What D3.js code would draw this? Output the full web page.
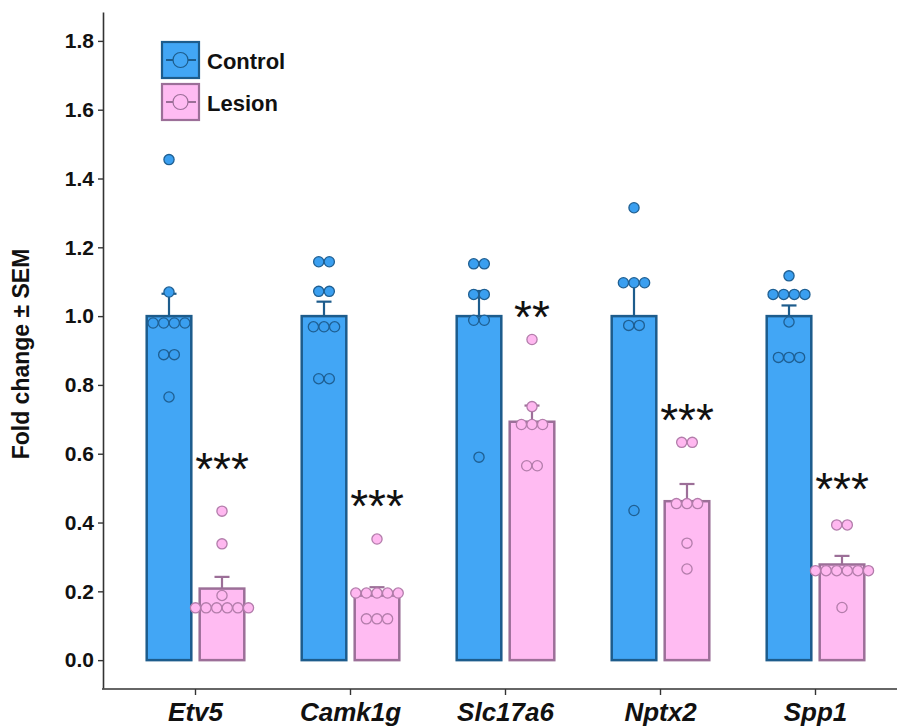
<!DOCTYPE html>
<html>
<head>
<meta charset="utf-8">
<script src="https://cdn.jsdelivr.net/npm/d3@7/dist/d3.min.js"></script>
<style>
  html, body { margin: 0; padding: 0; background: #fff; }
  svg { display: block; }
  text { font-family: "Liberation Sans", Arial, Helvetica, sans-serif; fill: #111; }
</style>
</head>
<body>
<svg id="chart" width="897" height="727"></svg>
<script>
// Genes and groups
const genes = ["Etv5", "Camk1g", "Slc17a6", "Nptx2", "Spp1"];
const groups = ["Control", "Lesion"];

// Group means (fold change) and SEM
const controlMean = [1.0, 1.0, 1.0, 1.0, 1.0];
const controlSem  = [0.065, 0.042, 0.073, 0.098, 0.031];
const lesionMean  = [0.208, 0.188, 0.693, 0.462, 0.278];
const lesionSem   = [0.034, 0.024, 0.047, 0.05, 0.025];

// Individual animals
const controlPoints = [
  [1.455, 1.07, 0.98, 0.98, 0.98, 0.98, 0.888, 0.888, 0.765],
  [1.158, 1.158, 1.072, 1.072, 0.969, 0.969, 0.969, 0.818, 0.818],
  [1.152, 1.152, 1.063, 1.063, 0.988, 0.988, 0.59],
  [1.315, 1.097, 1.097, 1.097, 0.973, 0.973, 0.435],
  [1.117, 1.063, 1.063, 1.063, 1.063, 0.983, 0.88, 0.88, 0.88]
];
const lesionPoints = [
  [0.433, 0.338, 0.188, 0.152, 0.152, 0.152, 0.152, 0.152, 0.152],
  [0.352, 0.195, 0.195, 0.195, 0.195, 0.195, 0.12, 0.12, 0.12],
  [0.932, 0.737, 0.685, 0.685, 0.685, 0.565, 0.565],
  [0.633, 0.633, 0.455, 0.455, 0.455, 0.34, 0.265],
  [0.393, 0.393, 0.26, 0.26, 0.26, 0.26, 0.26, 0.26, 0.153]
];

// Significance marks (Lesion vs Control) and the level they sit at
const sigLabels = ["***", "***", "**", "***", "***"];
const sigLevel  = [0.578, 0.472, 1.022, 0.722, 0.522];

// Axis ticks
const yTicks = [0, 0.2, 0.4, 0.6, 0.8, 1.0, 1.2, 1.4, 1.6, 1.8];

const styles = {
  Control: { fill: "#42a6f5", stroke: "#1d5c8c", dotFill: "#3a9ff0", dotStroke: "#1f5f92" },
  Lesion:  { fill: "#ffbbf2", stroke: "#9c6f98", dotFill: "#ffb8f0", dotStroke: "#b37dab" }
};

const svg = d3.select("#chart");
const axisColor = "#333";

const y = d3.scaleLinear().domain([-0.081, 1.884]).range([688, 12]);
const x = d3.scaleBand().domain(genes).range([118, 893]);
const xs = d3.scaleBand().domain(groups).range([-50, 50]).paddingInner(0.113);

const rows = genes.map((g, i) => ({
  gene: g,
  bars: [
    { group: "Control", mean: controlMean[i], sem: controlSem[i], pts: controlPoints[i] },
    { group: "Lesion",  mean: lesionMean[i],  sem: lesionSem[i],  pts: lesionPoints[i] }
  ],
  sig: sigLabels[i], sigY: sigLevel[i]
}));

// Axes
const yAxis = d3.axisLeft(y).tickValues(yTicks).tickFormat(d3.format(".1f"))
  .tickSize(5).tickSizeOuter(0).tickPadding(4);
const gy = svg.append("g").attr("transform", "translate(103,0)").call(yAxis);
gy.select(".domain").attr("stroke", axisColor).attr("stroke-width", 1.6);
gy.selectAll(".tick line").attr("stroke", axisColor).attr("stroke-width", 1.4);
gy.selectAll(".tick text").attr("font-size", 21).attr("font-weight", "bold")
  .attr("font-family", "Liberation Sans, Arial, sans-serif").attr("fill", "#111");

const xAxis = d3.axisBottom(x).tickSize(6).tickSizeOuter(0).tickPadding(6);
const gx = svg.append("g").attr("transform", "translate(0,689)").call(xAxis);
gx.select(".domain").remove();
gx.append("line").attr("x1", 102).attr("x2", 897).attr("y1", 0).attr("y2", 0)
  .attr("stroke", axisColor).attr("stroke-width", 1.6);
gx.selectAll(".tick line").attr("stroke", axisColor).attr("stroke-width", 1.4);
gx.selectAll(".tick text").attr("font-size", 26).attr("font-weight", "bold")
  .attr("font-style", "italic").attr("font-family", "Liberation Sans, Arial, sans-serif")
  .attr("fill", "#111").attr("dy", "0.76em");

// Y axis title
svg.append("text")
  .attr("transform", "translate(29,354) rotate(-90)")
  .attr("text-anchor", "middle")
  .attr("font-size", 23).attr("font-weight", "bold")
  .text("Fold change \u00b1 SEM");

// Bars
const gGene = svg.selectAll("g.gene").data(rows).join("g")
  .attr("class", "gene")
  .attr("transform", d => `translate(${x(d.gene) + x.bandwidth() / 2},0)`);

const gBar = gGene.selectAll("g.bar").data(d => d.bars).join("g").attr("class", "bar");

gBar.append("rect")
  .attr("x", d => xs(d.group) + 1.2)
  .attr("width", xs.bandwidth() - 2.4)
  .attr("y", d => y(d.mean))
  .attr("height", d => y(0) - y(d.mean))
  .attr("fill", d => styles[d.group].fill)
  .attr("stroke", d => styles[d.group].stroke)
  .attr("stroke-width", 2.5);

// Error bars (upper SEM)
gBar.append("line")
  .attr("x1", d => xs(d.group) + xs.bandwidth() / 2)
  .attr("x2", d => xs(d.group) + xs.bandwidth() / 2)
  .attr("y1", d => y(d.mean))
  .attr("y2", d => y(d.mean + d.sem))
  .attr("stroke", d => styles[d.group].stroke).attr("stroke-width", 2.2);
gBar.append("line")
  .attr("x1", d => xs(d.group) + xs.bandwidth() / 2 - 7.5)
  .attr("x2", d => xs(d.group) + xs.bandwidth() / 2 + 7.5)
  .attr("y1", d => y(d.mean + d.sem))
  .attr("y2", d => y(d.mean + d.sem))
  .attr("stroke", d => styles[d.group].stroke).attr("stroke-width", 2.2);

// Individual points: equal values are laid side by side, centred on the bar
const r = 5.1, step = 10.6;
function layout(d) {
  const cx = xs(d.group) + xs.bandwidth() / 2;
  const byVal = d3.group(d.pts, v => v);
  const out = [];
  for (const [v, arr] of byVal) {
    const n = arr.length;
    arr.forEach((_, k) => out.push({ v, cx: cx + (k - (n - 1) / 2) * step, group: d.group }));
  }
  return out;
}
gBar.selectAll("circle").data(layout).join("circle")
  .attr("cx", p => p.cx)
  .attr("cy", p => y(p.v))
  .attr("r", r)
  .attr("fill", p => styles[p.group].dotFill)
  .attr("stroke", p => styles[p.group].dotStroke)
  .attr("stroke-width", 1.3);

// Significance stars above the Lesion bar
gGene.append("text")
  .attr("x", xs("Lesion") + xs.bandwidth() / 2)
  .attr("y", d => y(d.sigY))
  .attr("dy", 24)
  .attr("text-anchor", "middle")
  .attr("font-size", 46)
  .text(d => d.sig);

// Legend
const legend = svg.append("g").attr("transform", "translate(161,41)");
const li = legend.selectAll("g").data(groups).join("g")
  .attr("transform", (d, i) => `translate(0,${i * 42})`);
li.append("rect").attr("x", 1).attr("y", 1).attr("width", 37).attr("height", 36)
  .attr("fill", d => styles[d].fill).attr("stroke", d => styles[d].stroke).attr("stroke-width", 2.2);
li.append("line").attr("x1", 5).attr("x2", 35).attr("y1", 19).attr("y2", 19)
  .attr("stroke", d => styles[d].stroke).attr("stroke-width", 2);
li.append("circle").attr("cx", 19.5).attr("cy", 19).attr("r", 7.5)
  .attr("fill", d => styles[d].fill).attr("stroke", d => styles[d].stroke).attr("stroke-width", 1.2);
li.append("text").attr("x", 46).attr("y", 28)
  .attr("font-size", 22).attr("font-weight", "bold")
  .text(d => d);
</script>
</body>
</html>
